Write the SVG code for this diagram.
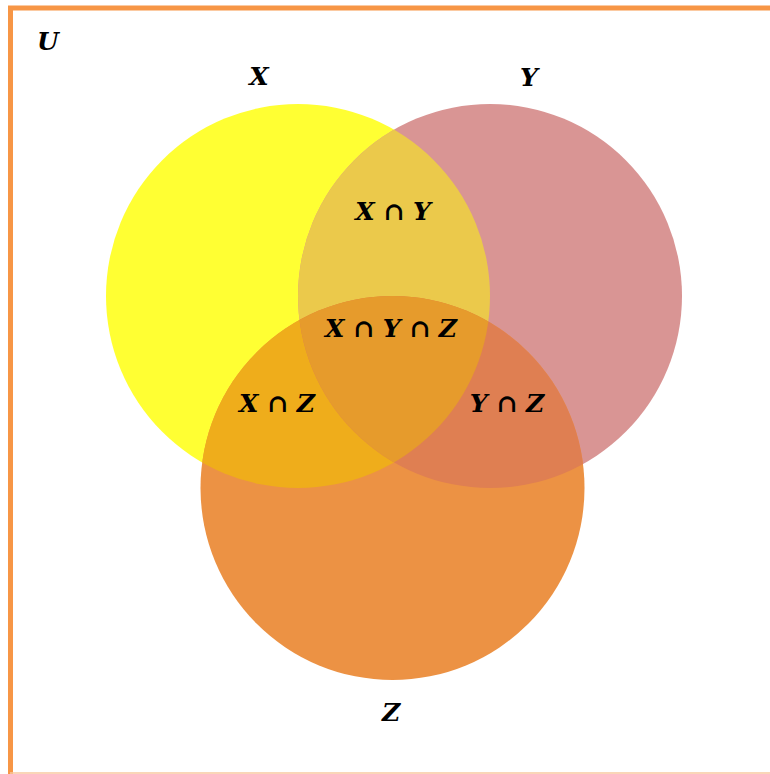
<svg xmlns="http://www.w3.org/2000/svg" width="770" height="774" viewBox="0 0 770 774">
<style>
  text { font-family: "DejaVu Serif", "Liberation Serif", serif; font-weight: bold; font-style: italic; font-size: 25px; fill: #000; text-anchor: middle; }
  .border { stroke: #f79646; stroke-width: 5; fill: none; }
</style>
<defs>
  <clipPath id="clipX"><circle cx="298" cy="296" r="192"/></clipPath>
  <clipPath id="clipY"><circle cx="490" cy="296" r="192"/></clipPath>
</defs>
<rect x="0" y="0" width="770" height="774" fill="#ffffff"/>
<g id="frame">
  <line class="border" x1="8" y1="8" x2="770" y2="8"/>
  <line class="border" x1="10.5" y1="6" x2="10.5" y2="774"/>
  <line x1="10" y1="773" x2="770" y2="773" stroke="#f9c8a0" stroke-width="1.5"/>
</g>
<g id="setX"><circle cx="298" cy="296" r="192" fill="#ffff33"/></g>
<g id="setY"><circle cx="490" cy="296" r="192" fill="#d99594"/></g>
<g id="setZ"><circle cx="392.5" cy="488" r="192" fill="#ec9244"/></g>
<g id="XY"><circle cx="490" cy="296" r="192" fill="#ebc94b" clip-path="url(#clipX)"/></g>
<g id="XZ"><circle cx="392.5" cy="488" r="192" fill="#efad1b" clip-path="url(#clipX)"/></g>
<g id="YZ"><circle cx="392.5" cy="488" r="192" fill="#df7f52" clip-path="url(#clipY)"/></g>
<g id="XYZ"><g clip-path="url(#clipX)"><circle cx="392.5" cy="488" r="192" fill="#e69b2c" clip-path="url(#clipY)"/></g></g>
<g id="labels">
  <text x="48" y="50">U</text>
  <text x="259" y="85">X</text>
  <text x="529" y="86">Y</text>
  <text x="391" y="721">Z</text>
  <text x="393" y="220">X ∩ Y</text>
  <text x="391" y="337">X ∩ Y ∩ Z</text>
  <text x="277" y="412">X ∩ Z</text>
  <text x="507" y="412">Y ∩ Z</text>
</g>
</svg>
